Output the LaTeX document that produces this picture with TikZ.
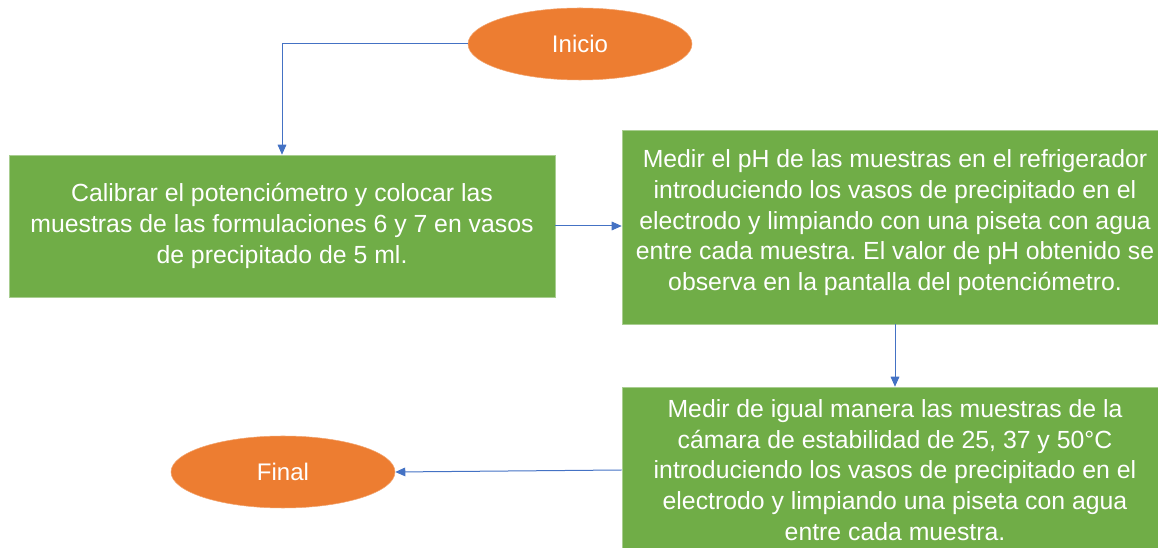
\documentclass[tikz,border=0pt]{standalone}
\usepackage{fontspec}
\setmainfont{Liberation Sans}
\usepackage{xcolor}
\usepackage{tikz}
\usetikzlibrary{shapes.geometric,arrows.meta}
\frenchspacing

\definecolor{stepgreen}{RGB}{112,173,71}
\definecolor{endorange}{RGB}{237,125,49}
\definecolor{linkblue}{RGB}{68,114,196}

\tikzset{
  stepbox/.style={rectangle, fill=stepgreen, draw=stepgreen!60!white, line width=0.4pt,
    text=white, align=center, minimum width=409.5pt, inner sep=0pt,
    font=\fontsize{18.6}{23}\selectfont},
  endpoint/.style={ellipse, fill=endorange, draw=endorange!70!white, line width=0.4pt,
    text=white, minimum width=168pt, minimum height=54pt, inner sep=0pt,
    font=\fontsize{18}{20}\selectfont},
  flow/.style={draw=linkblue, line width=0.75pt, -{Triangle[length=7.5pt,width=6.5pt]}}
}

\begin{document}
\begin{tikzpicture}[x=0.75pt,y=0.75pt,yscale=-1,xscale=1]
\useasboundingbox (0,0) rectangle (1158,548);
\clip (0,0) rectangle (1158,548);

%Shape: Ellipse [inicio]
\node [endpoint] (inicio) at (580,44) {Inicio};
%Shape: Ellipse [final]
\node [endpoint] (final) at (283,472) {Final};

%Shape: Rectangle [calibrar]
\node [stepbox, minimum height=106.5pt] (calibrar) at (282,226)
  {Calibrar el potenciómetro y colocar las\\
   muestras de las formulaciones 6 y 7 en vasos\\
   de precipitado de 5 ml.};
%Shape: Rectangle [medir]
\node [stepbox, minimum height=145.5pt] (medir) at (895,227)
  {Medir el pH de las muestras en el refrigerador\\
   introduciendo los vasos de precipitado en el\\
   electrodo y limpiando con una piseta con agua\\
   entre cada muestra. El valor de pH obtenido se\\
   observa en la pantalla del potenciómetro.\\[-13pt]\mbox{}};
%Shape: Rectangle [camara]
\node [stepbox, minimum height=124.5pt] (camara) at (895,470)
  {Medir de igual manera las muestras de la\\
   cámara de estabilidad de 25, 37 y 50°C\\
   introduciendo los vasos de precipitado en el\\
   electrodo y limpiando una piseta con agua\\
   entre cada muestra.};

%Straight Lines
\draw [flow] (inicio.west) -| (calibrar.north);
\draw [flow] (calibrar.east) -- (calibrar.east -| medir.west);
\draw [flow] (medir.south) -- (camara.north);
\draw [flow] (camara.west) -- (final.east);
\end{tikzpicture}
\end{document}
